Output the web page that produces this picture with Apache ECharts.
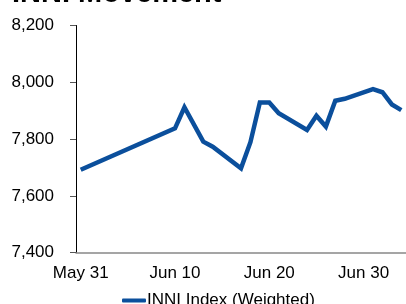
<!DOCTYPE html>
<html>
<head>
    <meta charset="utf-8">
    <script src="https://cdn.jsdelivr.net/npm/echarts@6.0.0/dist/echarts.min.js"></script>
    <style>
        html, body { margin: 0; padding: 0; background: #fff; }
        #chart { width: 406px; height: 304px; }
    </style>
</head>
<body>
<div id="chart"></div>
<script>
    // one category per calendar day, null where there is no reading
    const days = [
        'May 31', 'Jun 1', 'Jun 2', 'Jun 3', 'Jun 4', 'Jun 5', 'Jun 6', 'Jun 7', 'Jun 8', 'Jun 9',
        'Jun 10', 'Jun 11', 'Jun 12', 'Jun 13', 'Jun 14', 'Jun 15', 'Jun 16', 'Jun 17', 'Jun 18', 'Jun 19',
        'Jun 20', 'Jun 21', 'Jun 22', 'Jun 23', 'Jun 24', 'Jun 25', 'Jun 26', 'Jun 27', 'Jun 28', 'Jun 29',
        'Jun 30', 'Jul 1', 'Jul 2', 'Jul 3', 'Jul 4'
    ]
    const inniWeighted = [
        7692, null, null, null, null, null, null, null, null, null,
        7838, 7912, null, 7791, 7773, null, null, 7697, 7789, 7929,
        7929, 7891, null, null, 7832, 7882, 7844, 7935, 7942, null,
        null, 7976, 7965, 7922, 7902
    ]
    const yTicks = [7400, 7600, 7800, 8000, 8200]

    const font = 'Liberation Sans, Arial, sans-serif'
    const chart = echarts.init(document.getElementById('chart'))

    chart.setOption({
        animation: false,
        title: {
            text: 'INNI Movement',
            left: 7,
            top: -26,
            textStyle: { fontFamily: font, fontSize: 29, fontWeight: 'bold', color: '#000' }
        },
        legend: {
            data: ['INNI Index (Weighted)'],
            left: 117,
            top: 287,
            icon: 'roundRect',
            itemWidth: 24,
            itemHeight: 4,
            itemGap: 0,
            textStyle: { fontFamily: font, fontSize: 17, color: '#000', padding: [0, 0, 0, -4] }
        },
        grid: { left: 76, top: 25.5, width: 334, height: 227.2, containLabel: false },
        xAxis: {
            type: 'category',
            data: days,
            boundaryGap: true,
            axisLine: { lineStyle: { color: '#888', width: 1.5 } },
            axisTick: { interval: 9, length: 5, lineStyle: { color: '#888' } },
            axisLabel: { interval: 9, margin: 12, fontFamily: font, fontSize: 17, color: '#000' },
            splitLine: { show: false }
        },
        yAxis: {
            type: 'value',
            min: yTicks[0],
            max: yTicks[yTicks.length - 1],
            interval: 200,
            axisLine: { show: true, lineStyle: { color: '#000', width: 1 } },
            axisTick: { show: true, length: 6, lineStyle: { color: '#555' } },
            axisLabel: {
                margin: 22,
                fontFamily: font,
                fontSize: 17,
                color: '#000',
                formatter: v => v.toLocaleString('en-US')
            },
            splitLine: { show: false }
        },
        series: [{
            name: 'INNI Index (Weighted)',
            type: 'line',
            data: inniWeighted,
            connectNulls: true,
            symbol: 'none',
            lineStyle: { color: '#0b4f9c', width: 4.5, join: 'miter' },
            itemStyle: { color: '#0b4f9c' }
        }]
    })
</script>
</body>
</html>
